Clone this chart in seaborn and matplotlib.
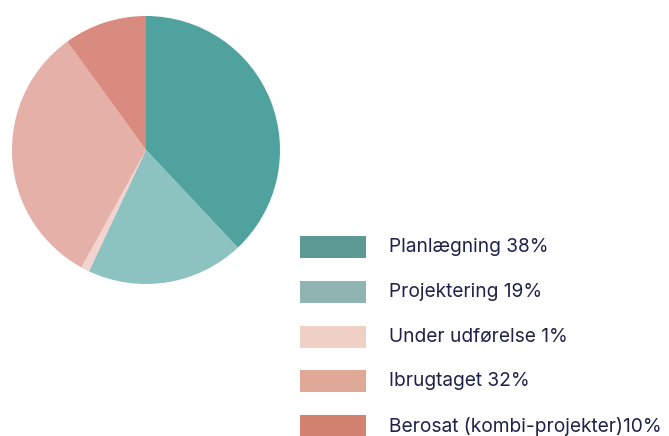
import matplotlib.pyplot as plt
import seaborn as sns
from matplotlib.patches import Rectangle

categories = ["Planlægning", "Projektering", "Under udførelse", "Ibrugtaget", "Berosat (kombi-projekter)"]
shares = [38, 19, 1, 32, 10]

pie_colors = ["#50A29E", "#8CC2BF", "#F2D3CF", "#E5B0A8", "#DA8B7F"]
legend_colors = ["#5E9A95", "#90B4B2", "#F0D0C5", "#E0A897", "#D3826F"]
text_color = "#1E2249"

sns.set_theme(style="white")
plt.rcParams["font.family"] = ["Inter", "DejaVu Sans"]

W, H = 669, 436
fig = plt.figure(figsize=(W / 100, H / 100), dpi=100)

# pie centre (146, 150) px from top-left, radius 134 px
cx, cy, r = 146, 150, 134
ax = fig.add_axes([(cx - r) / W, (H - cy - r) / H, 2 * r / W, 2 * r / H])
ax.pie(shares, colors=pie_colors, startangle=90, counterclock=False,
       radius=1.0, wedgeprops={"linewidth": 0})
ax.set_xlim(-1, 1)
ax.set_ylim(-1, 1)
ax.set_aspect("auto")
ax.axis("off")

# legend drawn by hand to match the spacing
row_y = [247, 292, 337, 381, 426]
for name, pct, col, y in zip(categories, shares, legend_colors, row_y):
    fig.patches.append(Rectangle((300 / W, (H - y - 11) / H), 66 / W, 22 / H,
                                 transform=fig.transFigure, facecolor=col,
                                 edgecolor="none"))
    sep = "" if name.endswith(")") else " "
    fig.text(389 / W, (H - y) / H, f"{name}{sep}{pct}%", color=text_color,
             fontsize=13.8, va="center", ha="left")

fig.savefig("out.png", dpi=100)
